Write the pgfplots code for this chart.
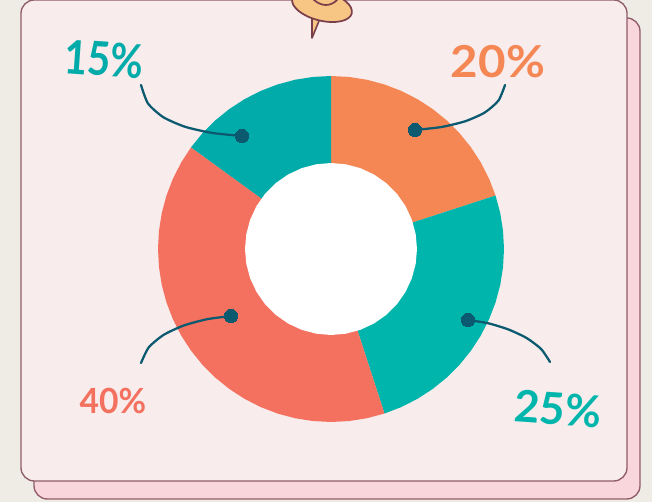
\documentclass[border=0pt]{standalone}
\usepackage{pgfplots}
\pgfplotsset{compat=1.18}
\usepackage{fontspec}
\setmainfont{Lato}
\definecolor{bgc}{HTML}{EFECE6}
\definecolor{card}{HTML}{F8ECEC}
\definecolor{shadowc}{HTML}{F9D5DC}
\definecolor{edge}{HTML}{8F5C68}
\definecolor{orangec}{HTML}{F58755}
\definecolor{tealc}{HTML}{00B5AB}
\definecolor{teald}{HTML}{01ABAA}
\definecolor{redc}{HTML}{F4705F}
\definecolor{dark}{HTML}{0B5A70}
\definecolor{pinc}{HTML}{F8C684}
\definecolor{pine}{HTML}{7A3F4A}
\begin{document}
\begin{tikzpicture}
\begin{axis}[
  at={(0,0)},anchor=south west,
  scale only axis,width=489pt,height=376.5pt,
  xmin=-331,xmax=321,ymin=-253,ymax=249,
  hide axis,clip=true]
% background
\fill[bgc] (axis cs:-331,-253) rectangle (axis cs:321,249);
\draw[edge,fill=shadowc,line width=1pt,rounded corners=10pt] (axis cs:-297,-250) rectangle (axis cs:309,231);
\draw[edge,fill=card,line width=1pt,rounded corners=10pt] (axis cs:-310,-232) rectangle (axis cs:296,249);
% pie slices: (angle, radius)
\addplot[fill=orangec,draw=none,data cs=polar] coordinates {(0,0)(90,173)(84,173)(78,173)(72,173)(66,173)(60,173)(54,173)(48,173)(42,173)(36,173)(30,173)(24,173)(18,173)} --cycle;
\addplot[fill=tealc,draw=none,data cs=polar] coordinates {(0,0)(18,173)(12,173)(6,173)(0,173)(-6,173)(-12,173)(-18,173)(-24,173)(-30,173)(-36,173)(-42,173)(-48,173)(-54,173)(-60,173)(-66,173)(-72,173)} --cycle;
\addplot[fill=redc,draw=none,data cs=polar] coordinates {(0,0)(-72,173)(-78,173)(-84,173)(-90,173)(-96,173)(-102,173)(-108,173)(-114,173)(-120,173)(-126,173)(-132,173)(-138,173)(-144,173)(-150,173)(-156,173)(-162,173)(-168,173)(-174,173)(-180,173)(-186,173)(-192,173)(-198,173)(-204,173)(-210,173)(-216,173)} --cycle;
\addplot[fill=teald,draw=none,data cs=polar] coordinates {(0,0)(144,173)(138,173)(132,173)(126,173)(120,173)(114,173)(108,173)(102,173)(96,173)(90,173)} --cycle;
% hole
\addplot[fill=white,draw=none,data cs=polar] coordinates {(0,86)(10,86)(20,86)(30,86)(40,86)(50,86)(60,86)(70,86)(80,86)(90,86)(100,86)(110,86)(120,86)(130,86)(140,86)(150,86)(160,86)(170,86)(180,86)(190,86)(200,86)(210,86)(220,86)(230,86)(240,86)(250,86)(260,86)(270,86)(280,86)(290,86)(300,86)(310,86)(320,86)(330,86)(340,86)(350,86)} --cycle;
% leaders
\addplot[dark,line width=1.7pt,smooth,tension=0.4,line cap=round] coordinates {(-190,164)(-183,145.5)(-167.7,131.8)(-145.9,122.2)(-119.1,116.1)(-89,113)};
\addplot[dark,line width=1.7pt,smooth,tension=0.4,line cap=round] coordinates {(174,164)(167.5,148.5)(153.8,136.5)(134.4,127.8)(110.6,122)(84,119)};
\addplot[dark,line width=1.7pt,smooth,tension=0.4,line cap=round] coordinates {(-190,-114)(-182.2,-98.3)(-167.25,-85.8)(-147.2,-76.5)(-124.1,-70.25)(-100,-67)};
\addplot[dark,line width=1.7pt,smooth,tension=0.4,line cap=round] coordinates {(137,-71)(157.3,-74.3)(177.5,-80.5)(195.75,-89.1)(210.2,-100.1)(219,-113)};
\addplot[only marks,mark=*,mark size=4.9pt,mark options={fill=dark,draw=dark,line width=0pt}] coordinates {(-89,113)(84,119)(-100,-67)(137,-71)};
% labels
\node[teald,font=\fontsize{35}{35}\selectfont\bfseries,rotate=-4,xscale=.86] at (axis cs:-227,190) {15\%};
\node[orangec,font=\fontsize{33}{33}\selectfont\bfseries,xscale=1.08] at (axis cs:167,187) {20\%};
\node[redc,font=\fontsize{26}{26}\selectfont\bfseries,xscale=.97] at (axis cs:-218,-152) {40\%};
\node[tealc,font=\fontsize{33}{33}\selectfont\bfseries,rotate=-4] at (axis cs:227,-160) {25\%};
% pin
\draw[pine,fill=pinc,line width=1.2pt,line join=round] (axis cs:-19,231) -- (axis cs:-19,211) -- (axis cs:-12,228);
\draw[pine,fill=pinc,line width=1.3pt,rotate around={-14:(axis cs:-9,243)}] (axis cs:-9,243) ellipse [x radius=23pt,y radius=11pt];
\draw[pine,line width=1.3pt] (axis cs:-18,250) .. controls (axis cs:-10,242) and (axis cs:0,242) .. (axis cs:7,250);
\end{axis}
\end{tikzpicture}
\end{document}
